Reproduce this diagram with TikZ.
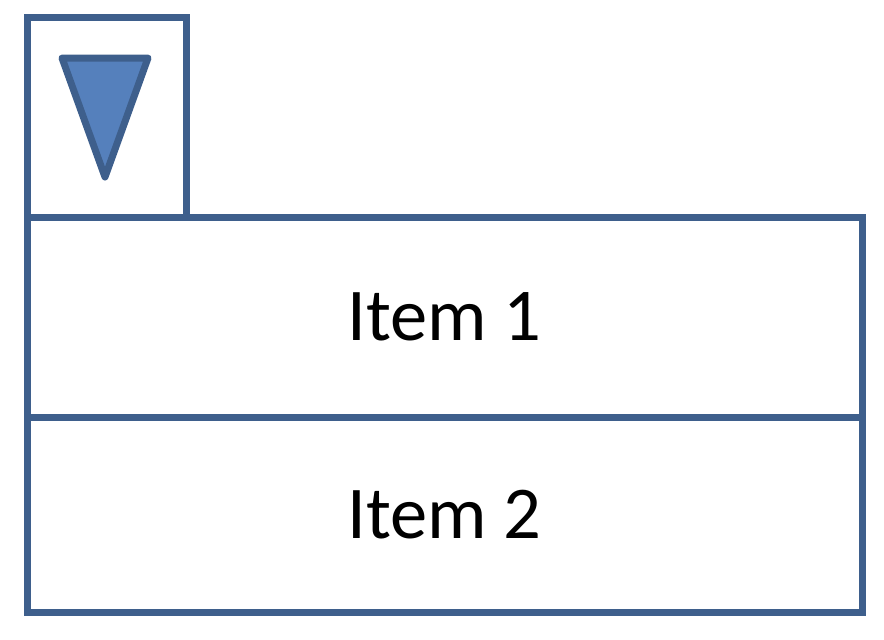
\documentclass[tikz,border=0pt]{standalone}
\usepackage{fontspec}
\setmainfont{Carlito}
\definecolor{frameblue}{HTML}{3E5F8C}
\definecolor{fillblue}{HTML}{5580BC}
\begin{document}
\begin{tikzpicture}[x=1pt,y=-1pt]
	\tikzstyle{tab} = [draw=frameblue, line width=7pt, minimum width=159pt, minimum height=200pt, inner sep=0pt]
	\tikzstyle{cell} = [draw=frameblue, line width=7pt, minimum width=835pt, inner sep=0pt, font=\fontsize{74.5}{80}\selectfont]
	\tikzstyle{arrow_down} = [draw=frameblue, fill=fillblue, line width=7pt, line join=round]
	\def\midx{444.5}
	\useasboundingbox (0,0) rectangle (884,640);

	% drop-down tab
	\node[tab] (tab) at (106.5,117) {};
	\draw[arrow_down] (62,58) -- (148,58) -- (105,177) -- cycle;

	% list items
	\foreach \name/\y/\h/\txt in {item_1/317/200/Item 1, item_2/514.5/195/Item 2}
		\node[cell, minimum height=\h pt] (\name) at (\midx,\y) {\txt};
\end{tikzpicture}
\end{document}
